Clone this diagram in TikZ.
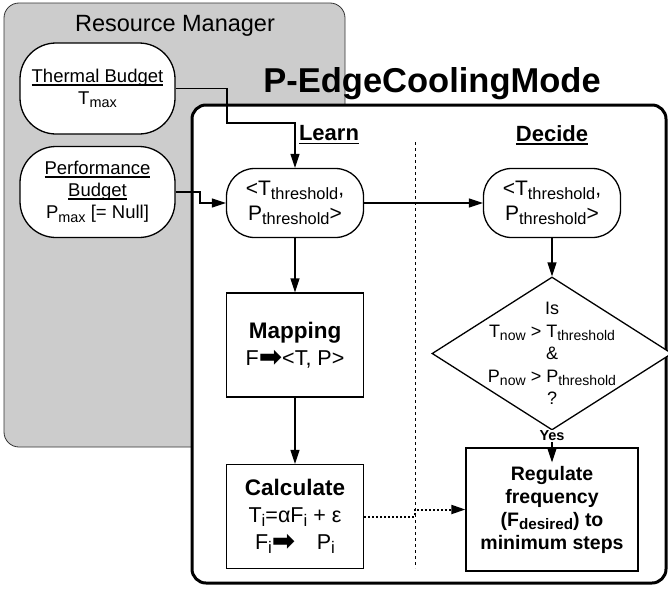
\documentclass[tikz,border=0pt]{standalone}
\usepackage{fontspec}
\setmainfont{Liberation Sans}
\newfontfamily\symfont{DejaVu Sans}
\usetikzlibrary{arrows.meta,shapes.geometric}
\newcommand{\sub}[1]{\raisebox{-0.35ex}{\scalebox{0.78}{#1}}}
\newcommand{\rarr}{\raisebox{-0.1ex}{\scalebox{1.3}{\symfont\bfseries ➡}}}
\newcommand{\undl}[1]{\setbox0\hbox{#1}\rlap{\rule[-0.17em]{\wd0}{0.08em}}\box0}

\begin{document}
\begin{tikzpicture}[x=1pt, y=-1pt,
		flow/.style={-{Triangle[length=14pt,width=9pt]}, line width=1.3pt},
		budget/.style={draw, line width=1.3pt, fill=white, rounded corners=36pt, minimum width=155pt, minimum height=91pt, align=center, font=\fontsize{18.5}{22}\selectfont},
		thr/.style={draw, line width=1.3pt, fill=white, rounded corners=28pt, minimum width=137pt, minimum height=69pt, align=center, font=\fontsize{21}{25}\selectfont},
		stepbox/.style={draw, line width=1.3pt, fill=white, minimum width=137pt, minimum height=104pt, align=center, font=\fontsize{21.5}{27}\selectfont},
		head/.style={font=\fontsize{22}{26}\selectfont\bfseries}]
		%%%%% START %%%%%
		
		\useasboundingbox (0,0) rectangle (668,589);
		
		\node[draw=black!80, line width=0.8pt, fill=black!20, rounded corners=15pt, minimum width=341pt, minimum height=444pt] (rm) at (174.5,225) {};
		\node[font=\fontsize{23.5}{28}\selectfont] (rmtitle) at (175,26) {Resource Manager};
		
		\node[budget] (thermal) at (97.5,88.5) {\undl{Thermal Budget}\\T\sub{max}};
		\node[budget] (perf) at (97.5,192) {\undl{Performance}\\\undl{Budget}\\P\sub{max} [= Null]};
		
		\node[font=\fontsize{34.5}{40}\selectfont\bfseries] (title) at (432,84) {P-EdgeCoolingMode};
		\node[draw, line width=3pt, fill=white, rounded corners=14pt, minimum width=474pt, minimum height=478pt] (mainbox) at (429,344) {};
		
		\node[head] (learn) at (329,135) {\undl{Learn}};
		\node[head] (decide) at (552,135) {\undl{Decide}};
		\draw[dashed, line width=1pt] (415,142) -- (415,568);
		
		\node[thr] (lthr) at (295,203) {<T\sub{threshold},\\P\sub{threshold}>};
		\node[thr] (dthr) at (552,203) {<T\sub{threshold},\\P\sub{threshold}>};
		
		\node[stepbox] (mapping) at (295,345) {{\fontsize{22.5}{28}\selectfont\bfseries Mapping}\\F\rarr<T, P>};
		\node[stepbox] (calc) at (295,516.5) {{\fontsize{22.5}{28}\selectfont\bfseries Calculate}\\T\sub{i}=αF\sub{i} + ε\\F\sub{i}\rarr\quad P\sub{i}};
		
		\node[draw, shape=diamond, line width=1.3pt, fill=white, minimum width=240pt, minimum height=153pt, inner sep=0pt,
			label={[align=center, font=\fontsize{18}{22.5}\selectfont]center:Is\\T\sub{now} > T\sub{threshold}\\\&\\P\sub{now} > P\sub{threshold}\\?}] (check) at (552,353.5) {};
		\node[draw, line width=1.3pt, fill=white, minimum width=172pt, minimum height=123pt, align=center, font=\fontsize{19.5}{23}\selectfont\bfseries] (regulate) at (552,509.5) {Regulate\\frequency\\(F\sub{desired}) to\\minimum steps};
		
		\draw[flow] (thermal.east) -| (227,123) -| (lthr.north);
		\draw[flow] (perf.east) -| (200,203) -- (lthr.west);
		\draw[flow] (lthr.east) -- (dthr.west);
		\draw[flow] (lthr.south) -- (mapping.north);
		\draw[flow] (mapping.south) -- (calc.north);
		\draw[flow] (dthr.south) -- (check.north);
		\draw[flow] (check.south) -- ([yshift=-15pt]regulate.north);
		\node[fill=white, inner sep=1pt, font=\fontsize{14.5}{17}\selectfont\bfseries] (yes) at (552,436) {Yes};
		\draw[flow, line width=2pt, dash pattern=on 2pt off 2pt] (calc.east) -| (415,509.5) -- (regulate.west);
		
		%%%%% END %%%%%
	\end{tikzpicture}
\end{document}
